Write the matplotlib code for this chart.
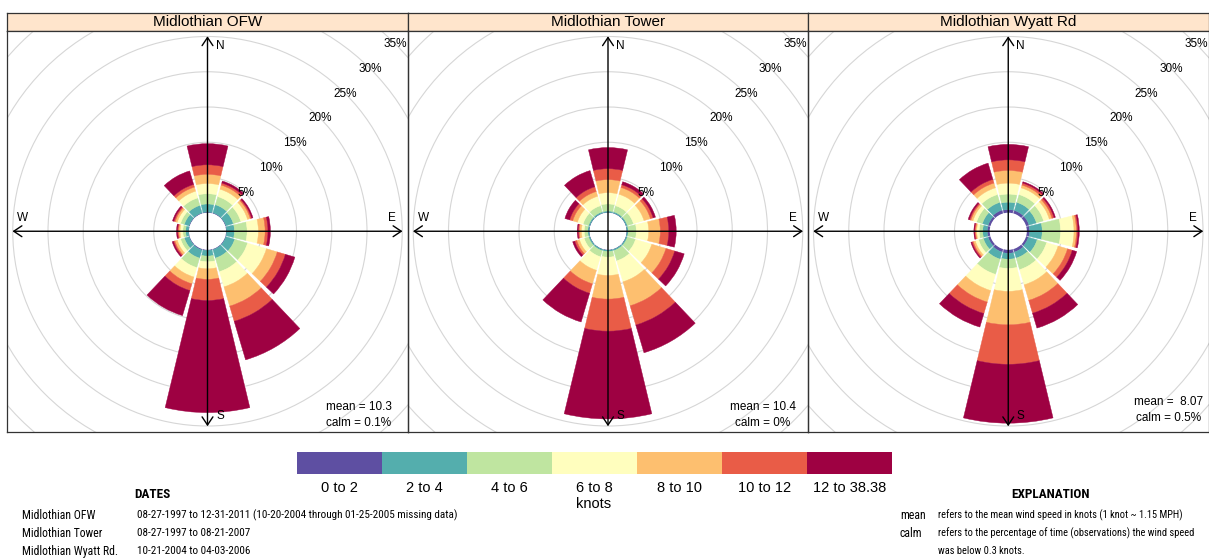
import os
import numpy as np
import matplotlib
matplotlib.use('Agg')
import matplotlib.pyplot as plt
from matplotlib import font_manager as fm
from matplotlib.patches import Circle
from matplotlib.colors import ListedColormap, BoundaryNorm
from matplotlib.cm import ScalarMappable

# ---------------- data ----------------
site_names = ["Midlothian OFW", "Midlothian Tower", "Midlothian Wyatt Rd"]
directions = [0, 30, 60, 90, 120, 150, 180, 210, 240, 270, 300, 330]
speed_labels = ["0 to 2", "2 to 4", "4 to 6", "6 to 8", "8 to 10", "10 to 12", "12 to 38.38"]
ring_levels = [5, 10, 15, 20, 25, 30, 35]

# percent frequency per direction (rows) and speed bin (columns)
ofw_freq = [
    [0.10, 1.15, 1.45, 1.45, 1.30, 1.35, 3.00],
    [0.10, 1.20, 1.20, 1.10, 0.60, 0.30, 0.30],
    [0.10, 1.10, 1.10, 1.00, 0.40, 0.20, 0.20],
    [0.10, 1.10, 1.80, 1.60, 0.95, 0.40, 0.35],
    [0.10, 1.30, 1.90, 2.80, 1.60, 1.20, 1.40],
    [0.10, 1.25, 2.00, 2.25, 2.85, 2.25, 5.70],
    [0.10, 0.80, 0.80, 1.00, 1.50, 3.00, 15.90],
    [0.15, 1.20, 1.40, 1.40, 1.00, 1.00, 3.70],
    [0.10, 0.70, 0.55, 0.50, 0.35, 0.20, 0.20],
    [0.07, 0.40, 0.40, 0.40, 0.20, 0.15, 0.15],
    [0.10, 0.70, 0.55, 0.50, 0.30, 0.20, 0.20],
    [0.10, 1.10, 1.10, 1.00, 0.60, 0.40, 2.00],
]
tower_freq = [
    [0.05, 0.20, 1.00, 1.60, 1.85, 1.55, 3.00],
    [0.05, 0.20, 0.90, 1.70, 1.00, 0.40, 0.45],
    [0.05, 0.20, 0.90, 1.55, 0.95, 0.40, 0.35],
    [0.05, 0.20, 1.15, 1.75, 1.65, 1.20, 1.05],
    [0.05, 0.20, 1.20, 2.40, 2.10, 1.30, 1.40],
    [0.05, 0.20, 1.50, 3.10, 3.55, 2.85, 4.10],
    [0.05, 0.20, 0.80, 2.60, 3.35, 4.55, 12.45],
    [0.05, 0.20, 0.90, 2.00, 2.00, 1.40, 4.25],
    [0.05, 0.20, 0.65, 0.70, 0.40, 0.30, 0.30],
    [0.05, 0.20, 0.50, 0.40, 0.30, 0.15, 0.15],
    [0.05, 0.20, 0.80, 0.85, 0.70, 0.45, 0.70],
    [0.05, 0.20, 0.90, 1.40, 0.70, 0.70, 2.40],
]
wyatt_freq = [
    [0.45, 1.05, 1.15, 1.55, 1.80, 1.50, 2.20],
    [0.45, 1.20, 1.15, 1.00, 0.40, 0.30, 0.20],
    [0.45, 1.10, 1.05, 0.85, 0.40, 0.30, 0.20],
    [0.40, 1.80, 2.60, 1.90, 0.35, 0.20, 0.20],
    [0.35, 1.30, 1.40, 1.70, 1.40, 0.70, 0.65],
    [0.45, 0.90, 1.70, 2.25, 2.30, 1.90, 2.20],
    [0.50, 0.85, 1.30, 3.25, 4.75, 5.60, 8.35],
    [0.45, 1.05, 2.25, 2.40, 1.70, 1.70, 2.00],
    [0.35, 0.70, 0.70, 0.50, 0.30, 0.20, 0.15],
    [0.35, 0.65, 0.50, 0.35, 0.15, 0.15, 0.10],
    [0.35, 0.85, 0.85, 0.55, 0.30, 0.20, 0.20],
    [0.50, 1.15, 1.15, 1.00, 0.70, 0.55, 2.40],
]
mean_texts = ["mean = 10.3", "mean = 10.4", "mean =  8.07"]
calm_texts = ["calm = 0.1%", "calm = 0%", "calm = 0.5%"]

date_sites = ["Midlothian OFW", "Midlothian Tower", "Midlothian Wyatt Rd."]
date_ranges = ["08-27-1997 to 12-31-2011 (10-20-2004 through 01-25-2005 missing data)",
               "08-27-1997 to 08-21-2007",
               "10-21-2004 to 04-03-2006"]
expl_keys = ["mean", "calm", ""]
expl_texts = ["refers to the mean wind speed in knots (1 knot ~ 1.15 MPH)",
              "refers to the percentage of time (observations) the wind speed",
              "was below 0.3 knots."]

# ---------------- style ----------------
plt.rcParams['font.family'] = ['Liberation Sans', 'DejaVu Sans']


def find_narrow(bold):
    """Look for an installed condensed / narrow sans font file."""
    prefs = ['liberation sans narrow', 'roboto condensed', 'open sans condensed',
             'noto sans', 'dejavu sans', 'arial narrow']
    found = []
    for f in fm.fontManager.ttflist:
        fn = os.path.basename(f.fname).lower()
        nm = f.name.lower()
        narrow = ('narrow' in fn or 'condensed' in fn or 'narrow' in nm or 'condensed' in nm
                  or str(f.stretch) in ('condensed', 'semi-condensed'))
        if not narrow:
            continue
        if any(s in fn for s in ('italic', 'oblique', 'extracondensed', 'extra', 'ultra',
                                  'semicondensed', 'semi', 'light', 'thin', 'medium',
                                  'black', 'mono', 'serif', 'display')):
            continue
        isb = ('bold' in fn)
        if isb != bold:
            continue
        rank = len(prefs)
        for j, p in enumerate(prefs):
            if nm.startswith(p):
                rank = j
                break
        found.append((rank, f.fname))
    if found:
        found.sort()
        return found[0][1]
    return None


nar_reg = find_narrow(False)
nar_bold = find_narrow(True)


def nprops(size, bold=False):
    path = nar_bold if bold else nar_reg
    if path:
        return fm.FontProperties(fname=path, size=size)
    return fm.FontProperties(family='Liberation Sans', size=size * 0.84,
                             weight='bold' if bold else 'normal')


W, H = 1209, 559
fig = plt.figure(figsize=(W / 100, H / 100), dpi=100)


def rect(x0, y0, x1, y1):
    return [x0 / W, 1 - y1 / H, (x1 - x0) / W, (y1 - y0) / H]


PX = 7.05          # pixels per percent
OFF = 18.5 / PX    # inner hole (percent units)
colors = [plt.get_cmap('Spectral_r')(i / 6) for i in range(7)]

edges = [7, 408, 808, 1208.5]
y_strip, y_top, y_bot = 12.5, 30.5, 432
mean_pos = [(151, 175.5, 192), (155, 175.5, 192), (160, 170.5, 187)]
theta = np.deg2rad(directions)
all_freq = [ofw_freq, tower_freq, wyatt_freq]

for i in range(3):
    x0, x1 = edges[i], edges[i + 1]
    cx = (x0 + x1) / 2
    cy = (y_top + y_bot) / 2
    freq = np.array(all_freq[i])

    # strip
    axs = fig.add_axes(rect(x0, y_strip, x1, y_top))
    axs.set_facecolor('#FFE5CC')
    axs.set_xticks([]); axs.set_yticks([])
    for s in axs.spines.values():
        s.set_linewidth(0.9); s.set_color('#333333')
    axs.text(0.5, 0.45, site_names[i], ha='center', va='center', fontsize=11,
             transform=axs.transAxes)

    xl = ((x0 - cx) / PX, (x1 - cx) / PX)
    yl = ((cy - y_bot) / PX, (cy - y_top) / PX)

    # background: grid circles
    axb = fig.add_axes(rect(x0, y_top, x1, y_bot), zorder=0)
    axb.set_xlim(*xl); axb.set_ylim(*yl)
    axb.set_xticks([]); axb.set_yticks([])
    for s in axb.spines.values():
        s.set_visible(False)
    for v in ring_levels:
        axb.add_patch(Circle((0, 0), OFF + v, fill=False, ec='#D6D6D6', lw=0.8))

    # polar bars
    R = 200
    axp = fig.add_axes(rect(cx - R, cy - R, cx + R, cy + R), projection='polar', zorder=1)
    axp.set_theta_zero_location('N')
    axp.set_theta_direction(-1)
    axp.set_rorigin(-OFF)
    axp.set_ylim(0, R / PX - OFF)
    cum = np.zeros(len(directions))
    for k in range(len(speed_labels)):
        axp.bar(theta, freq[:, k], width=np.deg2rad(27), bottom=cum,
                color=colors[k], edgecolor=colors[k], linewidth=0.3, align='center')
        cum = cum + freq[:, k]
    axp.axis('off')

    # foreground: axes arrows, labels, frame
    axf = fig.add_axes(rect(x0, y_top, x1, y_bot), zorder=2)
    axf.set_xlim(*xl); axf.set_ylim(*yl)
    axf.patch.set_visible(False)
    axf.set_xticks([]); axf.set_yticks([])
    for s in axf.spines.values():
        s.set_linewidth(0.9); s.set_color('#333333')
    L = 195 / PX
    ap = dict(arrowstyle='<->,head_length=0.45,head_width=0.3', lw=1.0, color='black',
              shrinkA=0, shrinkB=0, mutation_scale=13)
    axf.annotate('', xy=(L, 0), xytext=(-L, 0), arrowprops=ap)
    axf.annotate('', xy=(0, L), xytext=(0, -L), arrowprops=ap)
    fs = 8.5
    axf.text(12.5 / PX, 185 / PX, 'N', ha='center', va='center', fontsize=fs)
    axf.text(12.5 / PX, -184.5 / PX, 'S', ha='center', va='center', fontsize=fs)
    axf.text(184.5 / PX, 13 / PX, 'E', ha='center', va='center', fontsize=fs)
    axf.text(-184.5 / PX, 13 / PX, 'W', ha='center', va='center', fontsize=fs)
    for v in ring_levels:
        r = (OFF + v) * np.cos(np.pi / 4)
        axf.text(r, r, f'{v}%', ha='center', va='center', fontsize=fs, clip_on=True)
    mx, my1, my2 = mean_pos[i]
    axf.text(mx / PX, -my1 / PX, mean_texts[i], ha='center', va='center', fontsize=fs)
    axf.text(mx / PX, -my2 / PX, calm_texts[i], ha='center', va='center', fontsize=fs)

# ---------------- colour key ----------------
cax = fig.add_axes(rect(297, 452, 892, 474))
cmap = ListedColormap(colors)
norm = BoundaryNorm(np.arange(len(colors) + 1), cmap.N)
cb = fig.colorbar(ScalarMappable(norm=norm, cmap=cmap), cax=cax, orientation='horizontal')
cb.set_ticks(np.arange(len(colors)) + 0.5)
cb.set_ticklabels(speed_labels)
cb.minorticks_off()
cb.ax.tick_params(which='both', length=0, labelsize=10.5, pad=5)
cb.outline.set_visible(False)
fig.text(594 / W, 1 - 503.5 / H, 'knots', ha='center', va='center', fontsize=10.5)

# ---------------- notes ----------------
fig.text(134 / W, 1 - 494.5 / H, 'DATES', ha='left', va='center',
         fontproperties=nprops(9.5, bold=True))
for j in range(3):
    yy = 1 - (515.5 + 18 * j) / H
    fig.text(22 / W, yy, date_sites[j], ha='left', va='center', fontproperties=nprops(8.5))
    fig.text(137 / W, yy, date_ranges[j], ha='left', va='center', fontproperties=nprops(8.0))

fig.text(1050 / W, 1 - 494.5 / H, 'EXPLANATION', ha='center', va='center',
         fontproperties=nprops(9.5, bold=True))
for j in range(3):
    yy = 1 - (515.5 + 18 * j) / H
    if expl_keys[j]:
        fig.text(900 / W, yy, expl_keys[j], ha='left', va='center', fontproperties=nprops(8.5))
    fig.text(938 / W, yy, expl_texts[j], ha='left', va='center', fontproperties=nprops(7.5))

fig.savefig('out.png', dpi=100)
